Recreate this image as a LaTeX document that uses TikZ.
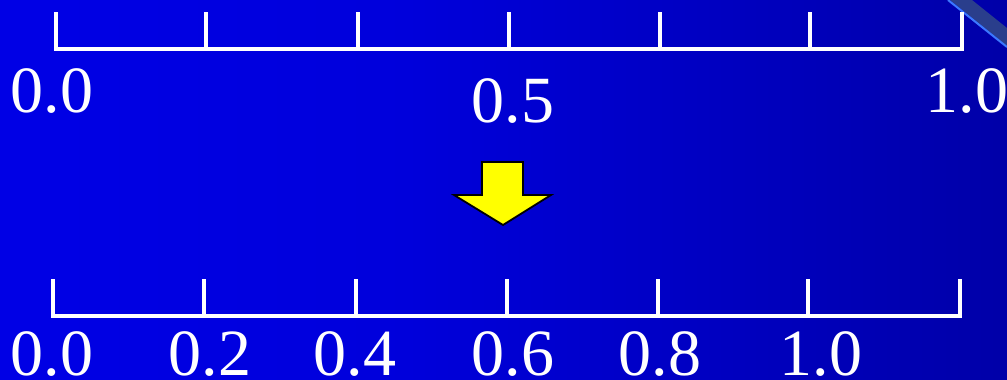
\documentclass[tikz,border=0pt]{standalone}
\usepackage{fontspec}
\setmainfont{Liberation Serif}
\pgfdeclarehorizontalshading{slidebg}{100bp}{%
  rgb(0bp)=(0,0,0.95); rgb(45bp)=(0,0,0.86); rgb(75bp)=(0,0,0.66); rgb(100bp)=(0,0,0.43)}
\definecolor{bandblue}{RGB}{42,62,140}
\definecolor{edgeblue}{RGB}{60,120,255}
\definecolor{arrowyellow}{RGB}{255,255,0}

\begin{document}
\begin{tikzpicture}[
    x=1pt, y=-1pt,
    ruler/.style={draw=white, line width=3.5pt},
    num/.style={text=white, anchor=base, inner sep=0pt, font=\fontsize{66}{70}\selectfont}
]
\useasboundingbox (0,0) rectangle (1007,380);

% Background
\shade[shading=slidebg] (0,0) rectangle (1007,380);

% Corner band
\fill[bandblue] (950,0) -- (972,0) -- (1007,28) -- (1007,46) -- cycle;
\draw[edgeblue, line width=2pt] (948,0) -- (1007,47);

% Upper ruler
\draw[ruler] (56,12) -- (56,49) -- (962,49) -- (962,12);
\foreach \x in {206,358,509,660,810}
    \draw[ruler] (\x,12) -- (\x,49);

\node[num] (t0) at (52,112) {0.0};
\node[num] (t5) at (513,122) {0.5};
\node[num] (t10) at (967,112) {1.0};

% Arrow
\draw[fill=arrowyellow, line width=1.8pt, line join=miter]
    (482,162) -- (523,162) -- (523,195) -- (551,195) -- (503,225)
    -- (454,195) -- (482,195) -- cycle;

% Lower ruler
\draw[ruler] (53,279) -- (53,316) -- (960,316) -- (960,279);
\foreach \x in {204,356,507,658,808}
    \draw[ruler] (\x,279) -- (\x,316);

\node[num] (b0) at (52,375) {0.0};
\node[num] (b2) at (210,375) {0.2};
\node[num] (b4) at (355,375) {0.4};
\node[num] (b6) at (513,375) {0.6};
\node[num] (b8) at (660,375) {0.8};
\node[num] (b10) at (821,375) {1.0};

\end{tikzpicture}
\end{document}
